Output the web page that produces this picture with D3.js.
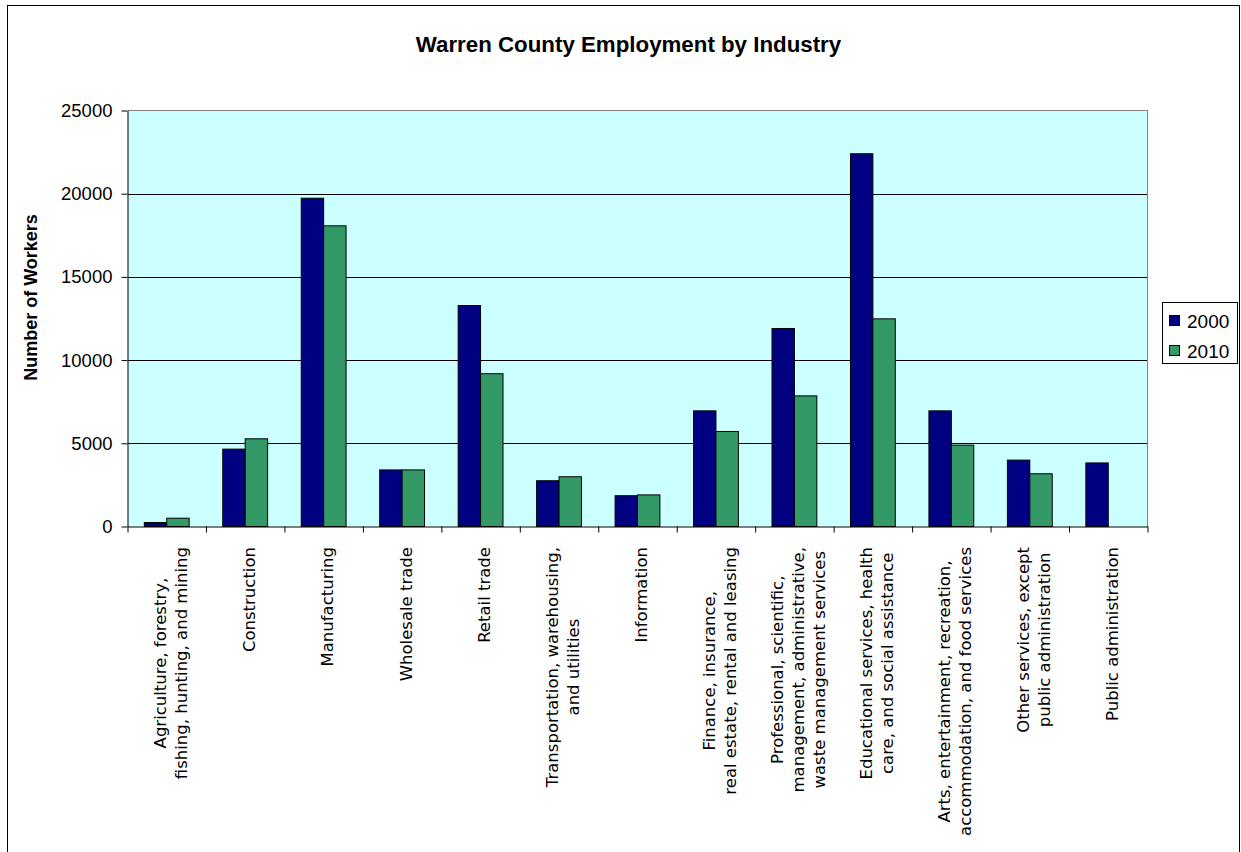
<!DOCTYPE html>
<html>
<head>
<meta charset="utf-8">
<title>Warren County Employment by Industry</title>
<script src="https://cdn.jsdelivr.net/npm/d3@7"></script>
<style>
  body { margin: 0; background: #fff; }
  svg { display: block; }
</style>
</head>
<body>
<svg id="chart" width="1241" height="852"></svg>
<script>
// Industry categories (line breaks mark where the axis label wraps)
const categories = [
  "Agriculture, forestry,\nfishing, hunting, and mining",
  "Construction",
  "Manufacturing",
  "Wholesale trade",
  "Retail trade",
  "Transportation, warehousing,\nand utilities",
  "Information",
  "Finance, insurance,\nreal estate, rental and leasing",
  "Professional, scientific,\nmanagement, administrative,\nwaste management services",
  "Educational services, health\ncare, and social assistance",
  "Arts, entertainment, recreation,\naccommodation, and food services",
  "Other services, except\npublic administration",
  "Public administration"
];
const series = ["2000", "2010"];
const values2000 = [240, 4650, 19730, 3400, 13280, 2750, 1850, 6950, 11900, 22400, 6950, 3990, 3820];
const values2010 = [500, 5270, 18070, 3400, 9180, 2990, 1900, 5710, 7850, 12480, 4890, 3170, null];
const seriesColors = ["#000080", "#339966"];
const yTicks = [0, 5000, 10000, 15000, 20000, 25000];

const svg = d3.select("#chart");
const plot = { left: 127.5, right: 1147.5, top: 110.5, bottom: 526.5 };
const sansFont = "'Liberation Sans', Arial, sans-serif";
const labelFont = "'DejaVu Sans', Verdana, sans-serif";

// Chart frame
svg.append("rect")
  .attr("x", 7.5).attr("y", 5.5)
  .attr("width", 1232).attr("height", 900)
  .attr("fill", "#fff").attr("stroke", "#000").attr("stroke-width", 1);

// Scales
const x0 = d3.scaleBand()
  .domain(d3.range(categories.length))
  .range([plot.left, plot.right])
  .paddingInner(0).paddingOuter(0);
const x1 = d3.scaleBand()
  .domain(series)
  .range([0, x0.bandwidth()])
  .paddingInner(0).paddingOuter(0.75);
const xEdges = d3.scaleLinear()
  .domain([0, categories.length])
  .range([plot.left, plot.right]);
const y = d3.scaleLinear().domain([0, 25000]).range([plot.bottom, plot.top]);

// Plot background
svg.append("rect")
  .attr("x", plot.left).attr("y", plot.top)
  .attr("width", plot.right - plot.left).attr("height", plot.bottom - plot.top)
  .attr("fill", "#CCFFFF");

// Gridlines
svg.append("g")
  .selectAll("line")
  .data(yTicks.filter(d => d > 0 && d < 25000))
  .join("line")
  .attr("x1", plot.left).attr("x2", plot.right)
  .attr("y1", d => Math.round(y(d)) + 0.5).attr("y2", d => Math.round(y(d)) + 0.5)
  .attr("stroke", "#000").attr("stroke-width", 1)
  .attr("shape-rendering", "crispEdges");

// Plot border on top and right
svg.append("path")
  .attr("d", `M${plot.left},${plot.top}H${plot.right}V${plot.bottom}`)
  .attr("fill", "none").attr("stroke", "#808080").attr("stroke-width", 1)
  .attr("shape-rendering", "crispEdges");

// Bars
const rows = categories.map((c, i) => ({ i, vals: [values2000[i], values2010[i]] }));
const groups = svg.append("g").selectAll("g")
  .data(rows)
  .join("g")
  .attr("transform", d => `translate(${x0(d.i)},0)`);
groups.selectAll("rect")
  .data(d => d.vals.map((v, k) => ({ key: series[k], k, v })).filter(e => e.v != null && e.v > 0))
  .join("rect")
  .attr("x", e => x1(e.key))
  .attr("width", x1.bandwidth())
  .attr("y", e => y(e.v))
  .attr("height", e => y(0) - y(e.v))
  .attr("fill", e => seriesColors[e.k])
  .attr("stroke", "#000").attr("stroke-width", 1);

// Y axis
const yAxis = svg.append("g")
  .attr("transform", `translate(${plot.left},0)`)
  .call(d3.axisLeft(y).tickValues(yTicks).tickFormat(d3.format("d")).tickSize(6).tickSizeOuter(0).tickPadding(9));
yAxis.select(".domain").attr("stroke", "#000");
yAxis.selectAll(".tick line").attr("stroke", "#000");
yAxis.selectAll(".tick text")
  .attr("font-family", sansFont).attr("font-size", 18.5).attr("fill", "#000");

// X axis (ticks sit between categories)
const xAxis = svg.append("g")
  .attr("transform", `translate(0,${plot.bottom})`)
  .call(d3.axisBottom(xEdges).tickValues(d3.range(categories.length + 1)).tickFormat("").tickSize(6).tickSizeOuter(0));
xAxis.select(".domain").attr("stroke", "#000");
xAxis.selectAll(".tick line").attr("stroke", "#000");

// Category labels, rotated and centered line by line
const labelTop = 547;
const lineGap = 20.8;
categories.forEach((c, i) => {
  const lines = c.split("\n");
  const n = lines.length;
  const g = svg.append("g")
    .attr("transform", `translate(${x0(i) + x0.bandwidth() / 2},${labelTop}) rotate(-90)`);
  const texts = lines.map((ln, j) => g.append("text")
    .attr("font-family", labelFont).attr("font-size", 16.5)
    .attr("fill", "#000")
    .attr("y", 9.5 + (j - (n - 1) / 2) * lineGap)
    .text(ln));
  const maxLen = d3.max(texts, t => t.node().getComputedTextLength());
  texts.forEach(t => t.attr("text-anchor", "middle").attr("x", -maxLen / 2));
});

// Y axis title
svg.append("text")
  .attr("transform", "translate(37,297.5) rotate(-90)")
  .attr("text-anchor", "middle")
  .attr("font-family", sansFont).attr("font-size", 18).attr("font-weight", "bold")
  .text("Number of Workers");

// Chart title
svg.append("text")
  .attr("x", 628.5).attr("y", 51.7)
  .attr("text-anchor", "middle")
  .attr("font-family", sansFont).attr("font-size", 22.3).attr("font-weight", "bold")
  .text("Warren County Employment by Industry");

// Legend
const legend = svg.append("g");
legend.append("rect")
  .attr("x", 1162.5).attr("y", 302.5).attr("width", 75).attr("height", 61)
  .attr("fill", "#fff").attr("stroke", "#000");
series.forEach((s, k) => {
  legend.append("rect")
    .attr("x", 1169.5).attr("y", 315.5 + k * 30).attr("width", 10).attr("height", 10)
    .attr("fill", seriesColors[k]).attr("stroke", "#000");
  legend.append("text")
    .attr("x", 1187).attr("y", 327.5 + k * 30)
    .attr("font-family", sansFont).attr("font-size", 19)
    .text(s);
});
</script>
</body>
</html>
